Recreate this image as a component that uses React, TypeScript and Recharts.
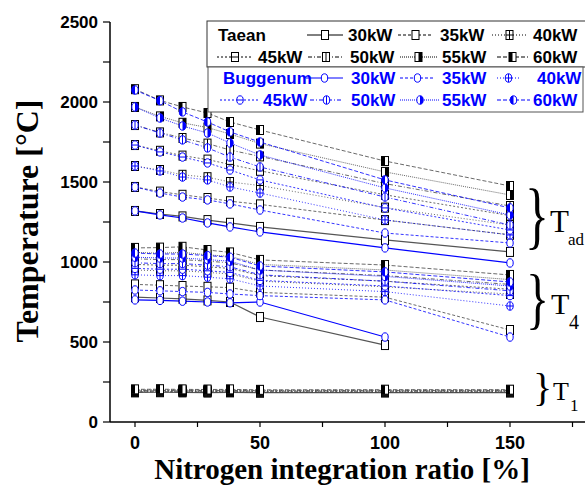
import React from 'react';
import { LineChart, Line, XAxis, YAxis } from 'recharts';

// nitrogen integration ratio [%] at each measured point
const nitrogen = [0, 10, 19, 29, 38, 50, 100, 150];
const powers = [30, 35, 40, 45, 50, 55, 60];

// rows follow powers (30kW ... 60kW), columns follow nitrogen
const taeanTad = [
  [1319, 1300, 1285, 1262, 1245, 1219, 1138, 1063],
  [1469, 1440, 1420, 1400, 1380, 1360, 1262, 1170],
  [1600, 1575, 1545, 1530, 1500, 1478, 1340, 1231],
  [1731, 1695, 1665, 1640, 1610, 1570, 1420, 1290],
  [1856, 1810, 1775, 1740, 1700, 1660, 1490, 1350],
  [1969, 1910, 1870, 1840, 1800, 1740, 1563, 1419],
  [2080, 2010, 1969, 1931, 1875, 1825, 1631, 1475],
];
const buggenumTad = [
  [1319, 1294, 1275, 1244, 1219, 1188, 1088, 994],
  [1469, 1431, 1406, 1388, 1363, 1325, 1181, 1119],
  [1600, 1569, 1531, 1513, 1469, 1431, 1263, 1169],
  [1731, 1688, 1656, 1619, 1575, 1513, 1338, 1200],
  [1856, 1806, 1763, 1713, 1656, 1594, 1406, 1231],
  [1969, 1900, 1850, 1806, 1744, 1669, 1463, 1294],
  [2075, 2008, 1938, 1875, 1813, 1750, 1513, 1338],
];
const taeanT4 = [
  [780, 775, 770, 760, 750, 656, 481, null],
  [860, 855, 850, 845, 840, 810, 780, 575],
  [950, 945, 945, 935, 925, 880, 845, 800],
  [985, 980, 980, 970, 960, 915, 880, 830],
  [1020, 1015, 1015, 1005, 995, 950, 915, 860],
  [1060, 1055, 1060, 1045, 1035, 985, 950, 890],
  [1088, 1090, 1095, 1075, 1060, 1013, 981, 919],
];
const buggenumT4 = [
  [763, 760, 755, 750, 745, 750, 531, null],
  [825, 820, 815, 810, 800, 790, 763, 531],
  [920, 915, 915, 905, 895, 850, 815, 725],
  [960, 955, 955, 945, 935, 885, 850, 790],
  [995, 990, 990, 980, 970, 920, 880, 820],
  [1030, 1025, 1025, 1015, 1005, 950, 910, 850],
  [1056, 1050, 1050, 1040, 1030, 975, 938, 875],
];
const taeanT1 = [
  [185, 186, 185, 184, 185, 183, 184, 184],
  [188, 189, 188, 187, 188, 186, 187, 187],
  [191, 192, 191, 190, 191, 189, 190, 190],
  [194, 195, 194, 193, 194, 192, 193, 193],
  [197, 198, 197, 196, 197, 195, 196, 196],
  [200, 201, 200, 199, 200, 198, 199, 199],
  [204, 205, 204, 203, 204, 201, 202, 202],
];

const xTicks = [0, 25, 50, 75, 100, 125, 150, 175];
const yTicks = [0, 250, 500, 750, 1000, 1250, 1500, 1750, 2000, 2250, 2500];

const BLUE = '#0000ff';
const dashes: Record<number, string | undefined> = {
  30: undefined,
  35: '3 2',
  40: '1 2',
  45: '2 2',
  50: '4 2 1 2',
  55: '1 1',
  60: '4 2',
};

const data = nitrogen.map((n, i) => {
  const row: Record<string, number | null> = { n };
  powers.forEach((p, j) => {
    row[`tad_t_${p}`] = taeanTad[j][i];
    row[`tad_b_${p}`] = buggenumTad[j][i];
    row[`t4_t_${p}`] = taeanT4[j][i];
    row[`t4_b_${p}`] = buggenumT4[j][i];
    row[`t1_t_${p}`] = taeanT1[j][i];
  });
  return row;
});

function Marker({ cx, cy, shape, power, color }: any) {
  if (shape === 'sq') {
    const w = 7, h = 9, x = cx - w / 2, y = cy - h / 2;
    return (
      <g>
        <rect x={x} y={y} width={w} height={h} fill="#fff" stroke={color} strokeWidth={1} />
        {power === 40 && <line x1={cx} y1={y} x2={cx} y2={y + h} stroke={color} />}
        {(power === 40 || power === 45) && <line x1={x} y1={cy} x2={x + w} y2={cy} stroke={color} />}
        {power === 50 && <line x1={cx} y1={y} x2={cx} y2={y + h} stroke={color} />}
        {power === 55 && <rect x={cx} y={y} width={w / 2} height={h} fill={color} />}
        {power === 60 && <rect x={x} y={y} width={w / 2} height={h} fill={color} />}
      </g>
    );
  }
  const rx = 3.2, ry = 4.2;
  return (
    <g>
      <ellipse cx={cx} cy={cy} rx={rx} ry={ry} fill="#fff" stroke={color} strokeWidth={1} />
      {(power === 40 || power === 50) && <line x1={cx} y1={cy - ry} x2={cx} y2={cy + ry} stroke={color} />}
      {(power === 40 || power === 45) && <line x1={cx - rx} y1={cy} x2={cx + rx} y2={cy} stroke={color} />}
      {power === 55 && <path d={`M${cx},${cy - ry} A${rx},${ry} 0 0 1 ${cx},${cy + ry} Z`} fill={color} />}
      {power === 60 && <path d={`M${cx},${cy - ry} A${rx},${ry} 0 0 0 ${cx},${cy + ry} Z`} fill={color} />}
    </g>
  );
}

const makeDot = (shape: string, power: number, color: string) => (p: any) => {
  const { cx, cy, key, value } = p;
  if (cx == null || cy == null || value == null) return <g key={key} />;
  return (
    <g key={key}>
      <Marker cx={cx} cy={cy} shape={shape} power={power} color={color} />
    </g>
  );
};

function renderLines(prefix: string, who: 't' | 'b') {
  const shape = who === 't' ? 'sq' : 'ci';
  const markColor = who === 't' ? '#000' : BLUE;
  return powers.map((p) => (
    <Line
      key={`${prefix}_${who}_${p}`}
      type="linear"
      dataKey={`${prefix}_${who}_${p}`}
      stroke={who === 't' ? (p === 30 ? '#555' : '#444') : BLUE}
      strokeWidth={p === 30 ? 1.2 : 0.8}
      strokeDasharray={dashes[p]}
      dot={makeDot(shape, p, markColor)}
      activeDot={false}
      isAnimationActive={false}
      connectNulls={false}
    />
  ));
}

function LegendSample({ x1, x2, y, shape, power, color }: any) {
  const cx = (x1 + x2) / 2;
  return (
    <g>
      <line x1={x1} y1={y} x2={x2} y2={y} stroke={color} strokeWidth={1} strokeDasharray={dashes[power]} />
      <Marker cx={cx} cy={y} shape={shape} power={power} color={color} />
    </g>
  );
}

const legendTaean = [
  { p: 30, x1: 307, x2: 343, tx: 348, y: 35 },
  { p: 35, x1: 398, x2: 433, tx: 440, y: 35 },
  { p: 40, x1: 492, x2: 527, tx: 533, y: 35 },
  { p: 45, x1: 217, x2: 253, tx: 258, y: 57 },
  { p: 50, x1: 308, x2: 344, tx: 350, y: 57 },
  { p: 55, x1: 400, x2: 437, tx: 442, y: 57 },
  { p: 60, x1: 497, x2: 528, tx: 533, y: 57 },
];
const legendBuggenum = [
  { p: 30, x1: 306, x2: 343, tx: 351, y: 78 },
  { p: 35, x1: 400, x2: 435, tx: 442, y: 78 },
  { p: 40, x1: 497, x2: 520, tx: 537, y: 78 },
  { p: 45, x1: 220, x2: 260, tx: 263, y: 100 },
  { p: 50, x1: 310, x2: 343, tx: 351, y: 100 },
  { p: 55, x1: 400, x2: 440, tx: 442, y: 100 },
  { p: 60, x1: 497, x2: 530, tx: 533, y: 100 },
];

const sans = '"Liberation Sans", Arial, sans-serif';
const serif = '"Liberation Serif", "Times New Roman", serif';

export default function App() {
  return (
    <div style={{ position: 'absolute', left: 0, top: 0, width: 585, height: 488, background: '#fff' }}>
      <LineChart width={585} height={488} data={data} margin={{ top: 22, right: 0, left: 0, bottom: 26 }}>
        <XAxis
          dataKey="n"
          type="number"
          domain={[-10, 180]}
          ticks={xTicks}
          tickFormatter={(v: number) => (v % 50 === 0 ? String(v) : '')}
          height={40}
          tickSize={5}
          tickMargin={9}
          axisLine={{ stroke: '#000', strokeWidth: 1.5 }}
          tickLine={{ stroke: '#000', strokeWidth: 1.2 }}
          tick={{ fill: '#000', fontSize: 18, fontWeight: 'bold', fontFamily: sans }}
          allowDataOverflow
        />
        <YAxis
          type="number"
          domain={[0, 2500]}
          ticks={yTicks}
          tickFormatter={(v: number) => (v % 500 === 0 ? String(v) : '')}
          width={110}
          tickSize={7}
          tickMargin={5}
          axisLine={{ stroke: '#000', strokeWidth: 1.5 }}
          tickLine={{ stroke: '#000', strokeWidth: 1.2 }}
          tick={{ fill: '#000', fontSize: 17, fontWeight: 'bold', fontFamily: sans }}
        />
        {renderLines('t1', 't')}
        {renderLines('t4', 't')}
        {renderLines('tad', 't')}
        {renderLines('t4', 'b')}
        {renderLines('tad', 'b')}
      </LineChart>
      <svg width={585} height={488} style={{ position: 'absolute', left: 0, top: 0, pointerEvents: 'none' }}>
        {/* legend boxes */}
        <rect x={207} y={21} width={400} height={46} fill="#fff" stroke="#333" strokeWidth={1} />
        <rect x={208} y={67} width={375} height={45} fill="#fff" stroke="#555" strokeWidth={1} />
        <text x={218} y={41} fontFamily={sans} fontWeight="bold" fontSize={17} fill="#000">Taean</text>
        <text x={223} y={84} fontFamily={sans} fontWeight="bold" fontSize={17} fill={BLUE}>Buggenum</text>
        {legendTaean.map((l) => (
          <g key={`lt${l.p}`}>
            <LegendSample x1={l.x1} x2={l.x2} y={l.y} shape="sq" power={l.p} color="#000" />
            <text x={l.tx} y={l.y + 6} fontFamily={sans} fontWeight="bold" fontSize={17} fill="#000">{`${l.p}kW`}</text>
          </g>
        ))}
        {legendBuggenum.map((l) => (
          <g key={`lb${l.p}`}>
            <LegendSample x1={l.x1} x2={l.x2} y={l.y} shape="ci" power={l.p} color={BLUE} />
            <text x={l.tx} y={l.y + 6} fontFamily={sans} fontWeight="bold" fontSize={17} fill={BLUE}>{`${l.p}kW`}</text>
          </g>
        ))}

        {/* group braces */}
        <text transform="translate(525,240) scale(1,1.5)" fontFamily={serif} fontSize={50} fill="#000">{'}'}</text>
        <text x={550} y={232} fontFamily={serif} fontSize={31} fill="#000">T</text>
        <text x={568} y={245} fontFamily={serif} fontSize={17} fill="#000">ad</text>
        <text transform="translate(526,321) scale(1,1.4)" fontFamily={serif} fontSize={48} fill="#000">{'}'}</text>
        <text x={551} y={314} fontFamily={serif} fontSize={30} fill="#000">T</text>
        <text x={569} y={329} fontFamily={serif} fontSize={20} fill="#000">4</text>
        <text x={533} y={401} fontFamily={serif} fontSize={40} fill="#000">{'}'}</text>
        <text x={553} y={400} fontFamily={serif} fontSize={26} fill="#000">T</text>
        <text x={570} y={411} fontFamily={serif} fontSize={17} fill="#000">1</text>

        {/* axis titles */}
        <text x={342} y={479} textAnchor="middle" fontFamily={serif} fontWeight="bold" fontSize={29} fill="#000">
          Nitrogen integration ratio [%]
        </text>
        <text
          x={0}
          y={0}
          transform="translate(38,221) rotate(-90)"
          textAnchor="middle"
          fontFamily={serif}
          fontWeight="bold"
          fontSize={32}
          fill="#000"
        >
          Temperature [°C]
        </text>
      </svg>
    </div>
  );
}
